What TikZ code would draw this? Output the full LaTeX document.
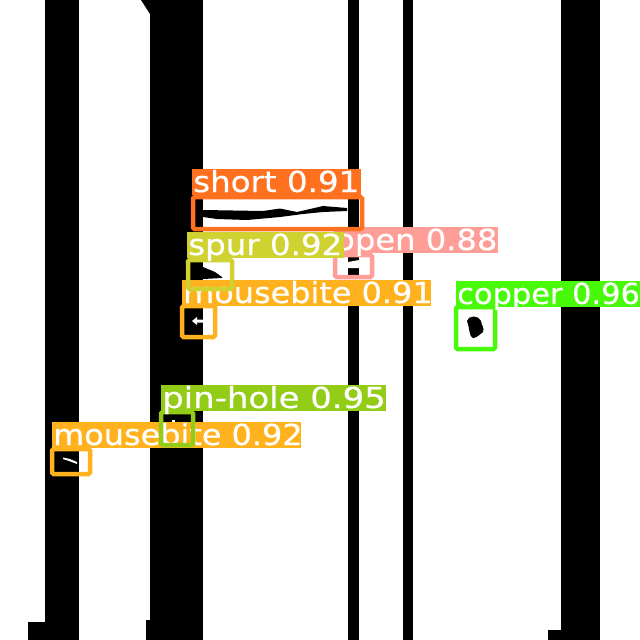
\documentclass[tikz,border=0pt]{standalone}
\usepackage{graphicx}
\usepackage{fontspec}
\newfontfamily\tagfont[FakeBold=0.5]{DejaVu Sans}
\definecolor{shortc}{HTML}{FF701F}
\definecolor{openc}{HTML}{FF9D97}
\definecolor{bitec}{HTML}{FFB21D}
\definecolor{spurc}{HTML}{CFD231}
\definecolor{copperc}{HTML}{48F90A}
\definecolor{pinc}{HTML}{92CC17}
\newcommand{\tagtext}[2][1.12]{\scalebox{#1}[1]{\fontsize{29}{29}\tagfont #2}}

\begin{document}
\begin{tikzpicture}[x=1pt,y=-1pt,
    tag/.style={fill=#1,text=white,anchor=north west,outer sep=0pt,inner sep=0pt,
        minimum height=26pt},
    tagline/.style={anchor=base west,inner sep=0pt,text=white},
    defect/.style={draw=#1,line width=4.5pt,anchor=north west,outer sep=0pt,inner sep=0pt,
        rounded corners=1.5pt}]
    \useasboundingbox (0,0) rectangle (640,640);
    \fill[white] (0,0) rectangle (640,640);
    % copper tracks
    \foreach \xa/\xb in {45/79,150/203,348/359,403/413,561/600}
        \fill (\xa,0) rectangle (\xb,640);
    \fill (28,622) rectangle (45,640);
    \fill (146,620) rectangle (150,640);
    \fill (548,630) rectangle (561,640);
    \fill (141,0) -- (150,14) -- (150,0) -- cycle;
    % defects
    \fill (203,210) -- (263,211) -- (280,208.5) -- (297,212) -- (323,206) -- (347,208)
        -- (347,211) -- (323,212) -- (303,214) -- (280,217) -- (247,220) -- (217,219)
        -- (203,217) -- cycle;
    \fill (203,267) -- (215,272) -- (222,277) -- (222,278) -- (203,279) -- cycle;
    \fill[white] (348,262) -- (359,260) -- (359,268) -- (348,268) -- cycle;
    \fill[white] (348,275) rectangle (359,280);
    \fill[white] (192,321) -- (197,317) -- (197,319.5) -- (203,319.5) -- (203,322.5)
        -- (197,322.5) -- (197,325) -- cycle;
    \fill[white] (63,457.5) -- (70,459) -- (77,462) -- (77,464) -- (69,461) -- (63,459) -- cycle;
    \fill (467,321) .. controls (468,315) and (479,315) .. (481,321)
        .. controls (481,325) and (485,328) .. (483,332)
        .. controls (480,334) and (477,338) .. (473,338)
        .. controls (469,337) and (470,329) .. (467,321) -- cycle;
    % boxes and labels
    \node[defect=copperc,minimum width=39pt,minimum height=42pt] (copperbox) at (456,307) {};
    \node[tag=copperc,minimum width=184pt] (copper) at (456,281) {};
    \node[tagline] (coppertext) at (457,304) {\tagtext[1.05]{copper 0.96}};
    \node[defect=bitec,minimum width=38pt,minimum height=25pt] (bitebox) at (52,449) {};
    \node[tag=bitec,minimum width=249pt] (bite) at (52,422) {};
    \node[tagline] (bitetext) at (53,445) {\tagtext[1.10]{mousebite 0.92}};
    \node[defect=pinc,minimum width=32pt,minimum height=33pt] (pinbox) at (161,412) {};
    \node[tag=pinc,minimum width=225pt] (pin) at (161,385) {};
    \node[tagline] (pintext) at (162,408) {\tagtext[1.17]{pin-hole 0.95}};
    \fill[white] (171.5,420) rectangle (175,422);
    \node[defect=openc,minimum width=37pt,minimum height=22pt] (openbox) at (335,255) {};
    \node[tag=openc,minimum width=164pt] (open) at (334,227) {};
    \node[tagline] (opentext) at (335,250) {\tagtext[1.11]{open 0.88}};
    \node[defect=bitec,minimum width=33pt,minimum height=31pt] (burrbox) at (182,306) {};
    \node[tag=bitec,minimum width=249pt] (burr) at (182,280) {};
    \node[tagline] (burrtext) at (183,303) {\tagtext[1.10]{mousebite 0.91}};
    \node[defect=spurc,minimum width=44pt,minimum height=29pt] (spurbox) at (188,260) {};
    \node[tag=spurc,minimum width=157pt] (spur) at (187,232) {};
    \node[tagline] (spurtext) at (188,255) {\tagtext{spur 0.92}};
    \node[defect=shortc,minimum width=169pt,minimum height=32pt] (shortbox) at (193,197) {};
    \node[tag=shortc,minimum width=169pt] (short) at (192,169) {};
    \node[tagline] (shorttext) at (193,192) {\tagtext{short 0.91}};
\end{tikzpicture}
\end{document}
